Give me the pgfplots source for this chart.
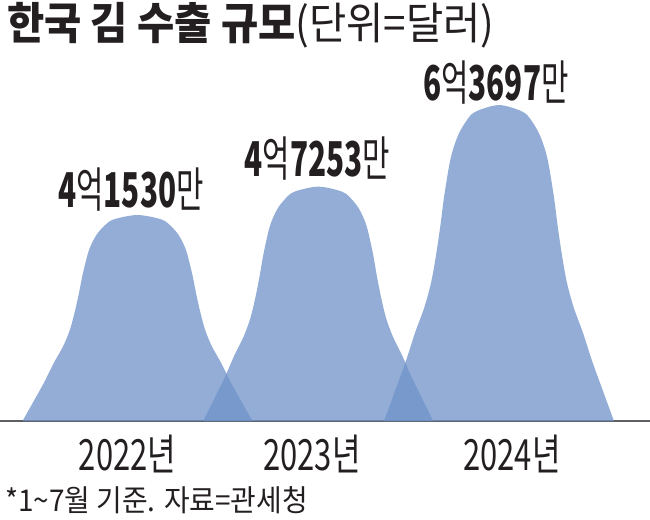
\documentclass[border=0pt]{standalone}
\usepackage{fontspec}
\usepackage{graphicx}
\usepackage{pgfplots}
\pgfplotsset{compat=1.18}
\setmainfont{Noto Sans CJK KR}

\definecolor{bellblue}{RGB}{111,146,200}
\definecolor{ink}{RGB}{35,31,32}
\definecolor{baseline}{RGB}{95,95,100}

\newcommand{\cond}[2]{\scalebox{#1}[1]{#2}}
\newcommand{\amount}[2]{\cond{0.62}{\textbf{#1}억\textbf{#2}만}}

\begin{document}
\begin{tikzpicture}[x=1pt,y=1pt]
\begin{axis}[
  scale only axis, width=650pt, height=421pt,
  xmin=-0.7607, xmax=2.8354,
  ymin=0, ymax=8.488,
  axis y line=none,
  axis x line*=bottom,
  x axis line style={draw=baseline, line width=1.5pt, -},
  major tick length=0pt,
  xtick={-0.055,0.965,2.072},
  xticklabels={\cond{0.72}{2022년},\cond{0.72}{2023년},\cond{0.72}{2024년}},
  xticklabel style={anchor=center, yshift=-33pt, text=ink,
    font=\fontsize{43}{43}\selectfont},
  clip=false,
  bell/.style={draw=none, fill=bellblue, fill opacity=0.75, smooth, tension=0.5},
]
\coordinate (bl) at (axis cs:-0.7607,0);

% 2022: 4억1530만
\addplot[bell] coordinates {
  (-0.636,0) (-0.572,0.415) (-0.515,0.789) (-0.464,1.163) (-0.413,1.495)
  (-0.375,1.827) (-0.347,2.201) (-0.324,2.575) (-0.304,2.944) (-0.274,3.381)
  (-0.251,3.596) (-0.215,3.812) (-0.151,4.033) (-0.073,4.118) (0,4.153)
  (0.073,4.118) (0.151,4.033) (0.215,3.812) (0.251,3.596) (0.274,3.381)
  (0.304,2.944) (0.324,2.575) (0.347,2.201) (0.375,1.827) (0.413,1.495)
  (0.464,1.163) (0.515,0.789) (0.572,0.415) (0.636,0)
} \closedcycle;

% 2023: 4억7253만
\addplot[bell] coordinates {
  (0.364,0) (0.428,0.473) (0.485,0.898) (0.536,1.323) (0.587,1.701)
  (0.625,2.079) (0.653,2.504) (0.676,2.930) (0.696,3.350) (0.726,3.846)
  (0.749,4.092) (0.785,4.338) (0.849,4.588) (0.927,4.685) (1,4.725)
  (1.073,4.685) (1.151,4.588) (1.215,4.338) (1.251,4.092) (1.274,3.846)
  (1.304,3.350) (1.324,2.930) (1.347,2.504) (1.375,2.079) (1.413,1.701)
  (1.464,1.323) (1.515,0.898) (1.572,0.473) (1.636,0)
} \closedcycle;

% 2024: 6억3697만
\addplot[bell] coordinates {
  (1.364,0) (1.428,0.637) (1.485,1.210) (1.536,1.784) (1.587,2.293)
  (1.625,2.803) (1.653,3.376) (1.676,3.949) (1.696,4.516) (1.726,5.185)
  (1.749,5.516) (1.785,5.847) (1.849,6.185) (1.927,6.316) (2,6.370)
  (2.073,6.316) (2.151,6.185) (2.215,5.847) (2.251,5.516) (2.274,5.185)
  (2.304,4.516) (2.324,3.949) (2.347,3.376) (2.375,2.803) (2.413,2.293)
  (2.464,1.784) (2.515,1.210) (2.572,0.637) (2.636,0)
} \closedcycle;

\node[text=ink, inner sep=0, font=\fontsize{48}{48}\selectfont]
  at (axis cs:-0.036,4.657) {\amount{4}{1530}};
\node[text=ink, inner sep=0, font=\fontsize{48}{48}\selectfont]
  at (axis cs:0.996,5.282) {\amount{4}{7253}};
\node[text=ink, inner sep=0, font=\fontsize{48}{48}\selectfont]
  at (axis cs:1.983,6.815) {\amount{6}{3697}};
\end{axis}

% page = 650 x 519 with the baseline 98 above its bottom
\pgfresetboundingbox
\path[use as bounding box] (bl) ++(0,-98) rectangle ++(650,519);

% title and note
\node[anchor=north west, inner sep=0, text=ink, font=\fontsize{44}{44}\selectfont]
  at ([shift={(7,419)}]bl) {\cond{0.92}{\textbf{한국 김 수출 규모}(단위=달러)}};
\node[anchor=west, inner sep=0, text=ink, font=\fontsize{30}{30}\selectfont]
  at ([shift={(5,-79)}]bl) {\cond{0.93}{*1\textasciitilde7월 기준. 자료=관세청}};
\end{tikzpicture}
\end{document}
